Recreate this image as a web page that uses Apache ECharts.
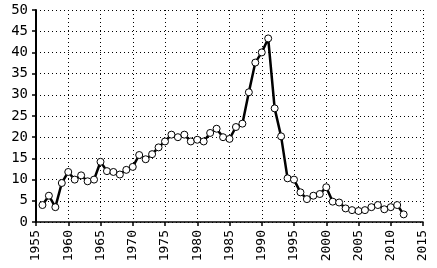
<!DOCTYPE html>
<html>
<head>
<meta charset="utf-8">
<script src="https://cdn.jsdelivr.net/npm/echarts@6/dist/echarts.min.js"></script>
<style>
  html, body { margin: 0; padding: 0; background: #fff; }
  #chart { width: 437px; height: 268px; }
</style>
</head>
<body>
<div id="chart"></div>
<script>
// yearly values
const years = [
  1956, 1957, 1958, 1959, 1960, 1961, 1962, 1963, 1964, 1965,
  1966, 1967, 1968, 1969, 1970, 1971, 1972, 1973, 1974, 1975,
  1976, 1977, 1978, 1979, 1980, 1981, 1982, 1983, 1984, 1985,
  1986, 1987, 1988, 1989, 1990, 1991, 1992, 1993, 1994, 1995,
  1996, 1997, 1998, 1999, 2000, 2001, 2002, 2003, 2004, 2005,
  2006, 2007, 2008, 2009, 2010, 2011, 2012
]
const values = [
  4, 6.2, 3.5, 9.2, 11.8, 10, 11, 9.6, 10, 14.2,
  12, 11.8, 11.2, 12.3, 13, 15.8, 14.8, 16, 17.6, 19,
  20.6, 20, 20.6, 19, 19.4, 19, 21, 22, 20, 19.6,
  22.4, 23.2, 30.6, 37.6, 40, 43.3, 26.8, 20.2, 10.3, 10,
  7, 5.4, 6.2, 6.6, 8.2, 4.8, 4.6, 3.2, 2.8, 2.6,
  2.8, 3.5, 4, 3, 3.5, 4, 1.8
]
const xMin = 1955, xMax = 2015, xStep = 5
const yMin = 0, yMax = 50, yStep = 5

const font = 'DejaVu Sans Mono'
const chart = echarts.init(document.getElementById('chart'), null, { renderer: 'canvas' })
const option = {
  animation: false,
  backgroundColor: '#fff',
  grid: { left: 36, right: 14, top: 10, bottom: 46 },
  xAxis: {
    type: 'value',
    min: xMin,
    max: xMax,
    interval: xStep,
    axisLine: { show: true, lineStyle: { color: '#000', width: 1.5 } },
    axisTick: { show: true, length: 4, lineStyle: { color: '#000', width: 1.5 } },
    axisLabel: {
      rotate: 90,
      color: '#000',
      fontFamily: font,
      fontSize: 13,
      margin: 8,
      formatter: v => String(v)
    },
    splitLine: { show: true, lineStyle: { color: '#000', type: [1, 3], width: 1 } }
  },
  yAxis: {
    type: 'value',
    min: yMin,
    max: yMax,
    interval: yStep,
    axisLine: { show: true, lineStyle: { color: '#000', width: 2 } },
    axisTick: { show: true, length: 4, lineStyle: { color: '#000', width: 1.5 } },
    axisLabel: {
      color: '#000',
      fontFamily: font,
      fontSize: 14,
      margin: 8
    },
    splitLine: { show: true, lineStyle: { color: '#000', type: [1, 3], width: 1 } }
  },
  series: [{
    type: 'line',
    data: years.map((y, i) => [y, values[i]]),
    symbol: 'circle',
    symbolSize: 7,
    showAllSymbol: true,
    itemStyle: { color: '#fff', borderColor: '#000', borderWidth: 1 },
    lineStyle: { color: '#000', width: 2.5 }
  }]
}
chart.setOption(option)
</script>
</body>
</html>
